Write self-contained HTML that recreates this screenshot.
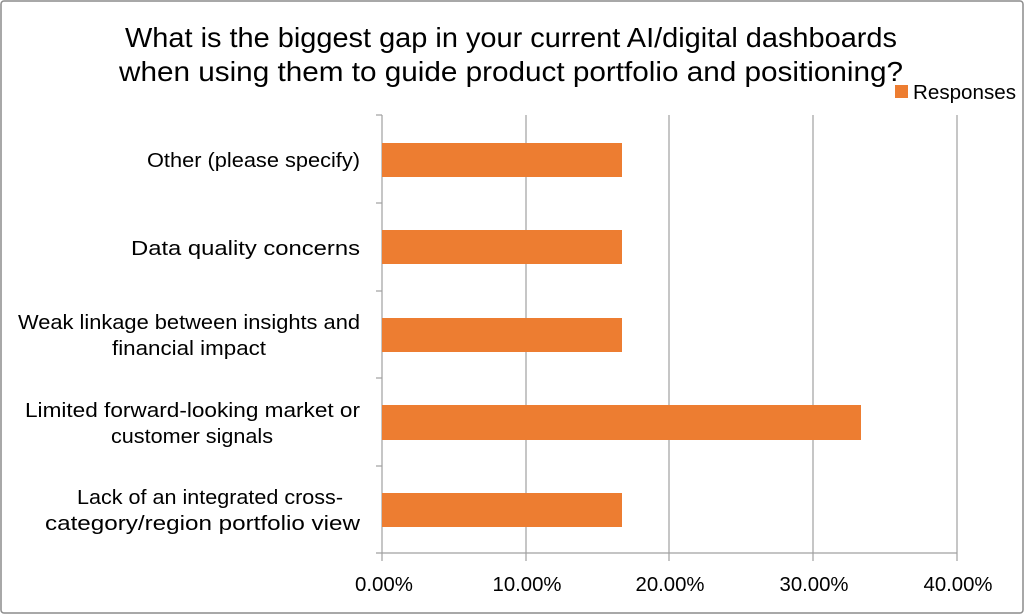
<!DOCTYPE html>
<html><head><meta charset="utf-8"><style>
html,body{margin:0;padding:0;background:#fff}
svg{display:block;font-family:"Liberation Sans",sans-serif}
</style></head><body>
<svg width="1024" height="615" viewBox="0 0 1024 615" xmlns="http://www.w3.org/2000/svg">
<rect x="1" y="1" width="1022" height="612" fill="#fff" stroke="#8c8c8c" stroke-width="1.5" rx="3"/>
<text x="511" y="47" font-size="28" text-anchor="middle" textLength="772" lengthAdjust="spacingAndGlyphs">What is the biggest gap in your current AI/digital dashboards</text>
<text x="511" y="81" font-size="28" text-anchor="middle" textLength="784" lengthAdjust="spacingAndGlyphs">when using them to guide product portfolio and positioning?</text>
<rect x="895" y="85" width="13" height="13" fill="#ed7d31"/>
<text x="913" y="99" font-size="20" textLength="103" lengthAdjust="spacingAndGlyphs">Responses</text>
<g stroke="#a0a0a0" stroke-width="1.2">
<line x1="526" y1="115" x2="526" y2="561"/>
<line x1="669" y1="115" x2="669" y2="561"/>
<line x1="813" y1="115" x2="813" y2="561"/>
<line x1="957" y1="115" x2="957" y2="561"/>
<line x1="382" y1="115" x2="382" y2="561"/>
<line x1="376" y1="553" x2="957" y2="553"/>
<line x1="376" y1="115" x2="382" y2="115"/>
<line x1="376" y1="203" x2="382" y2="203"/>
<line x1="376" y1="291" x2="382" y2="291"/>
<line x1="376" y1="378" x2="382" y2="378"/>
<line x1="376" y1="466" x2="382" y2="466"/>
</g>
<g fill="#ed7d31">
<rect x="382" y="143" width="240" height="34"/>
<rect x="382" y="230" width="240" height="34"/>
<rect x="382" y="318" width="240" height="34"/>
<rect x="382" y="405" width="479" height="35"/>
<rect x="382" y="493" width="240" height="34"/>
</g>
<g font-size="20" text-anchor="middle" fill="#000">
<text x="253.5" y="167" textLength="213" lengthAdjust="spacingAndGlyphs">Other (please specify)</text>
<text x="245.5" y="255" textLength="229" lengthAdjust="spacingAndGlyphs">Data quality concerns</text>
<text x="189" y="329" textLength="342" lengthAdjust="spacingAndGlyphs">Weak linkage between insights and</text>
<text x="189" y="355" textLength="154" lengthAdjust="spacingAndGlyphs">financial impact</text>
<text x="192.5" y="417" textLength="335" lengthAdjust="spacingAndGlyphs">Limited forward-looking market or</text>
<text x="192" y="443" textLength="162" lengthAdjust="spacingAndGlyphs">customer signals</text>
<text x="210" y="504" textLength="266" lengthAdjust="spacingAndGlyphs">Lack of an integrated cross-</text>
<text x="202.5" y="530" textLength="315" lengthAdjust="spacingAndGlyphs">category/region portfolio view</text>
</g>
<g font-size="20" text-anchor="middle">
<text x="384" y="591" textLength="58" lengthAdjust="spacingAndGlyphs">0.00%</text>
<text x="527" y="591" textLength="69" lengthAdjust="spacingAndGlyphs">10.00%</text>
<text x="670" y="591" textLength="69" lengthAdjust="spacingAndGlyphs">20.00%</text>
<text x="814" y="591" textLength="69" lengthAdjust="spacingAndGlyphs">30.00%</text>
<text x="958" y="591" textLength="69" lengthAdjust="spacingAndGlyphs">40.00%</text>
</g>
</svg>
</body></html>
